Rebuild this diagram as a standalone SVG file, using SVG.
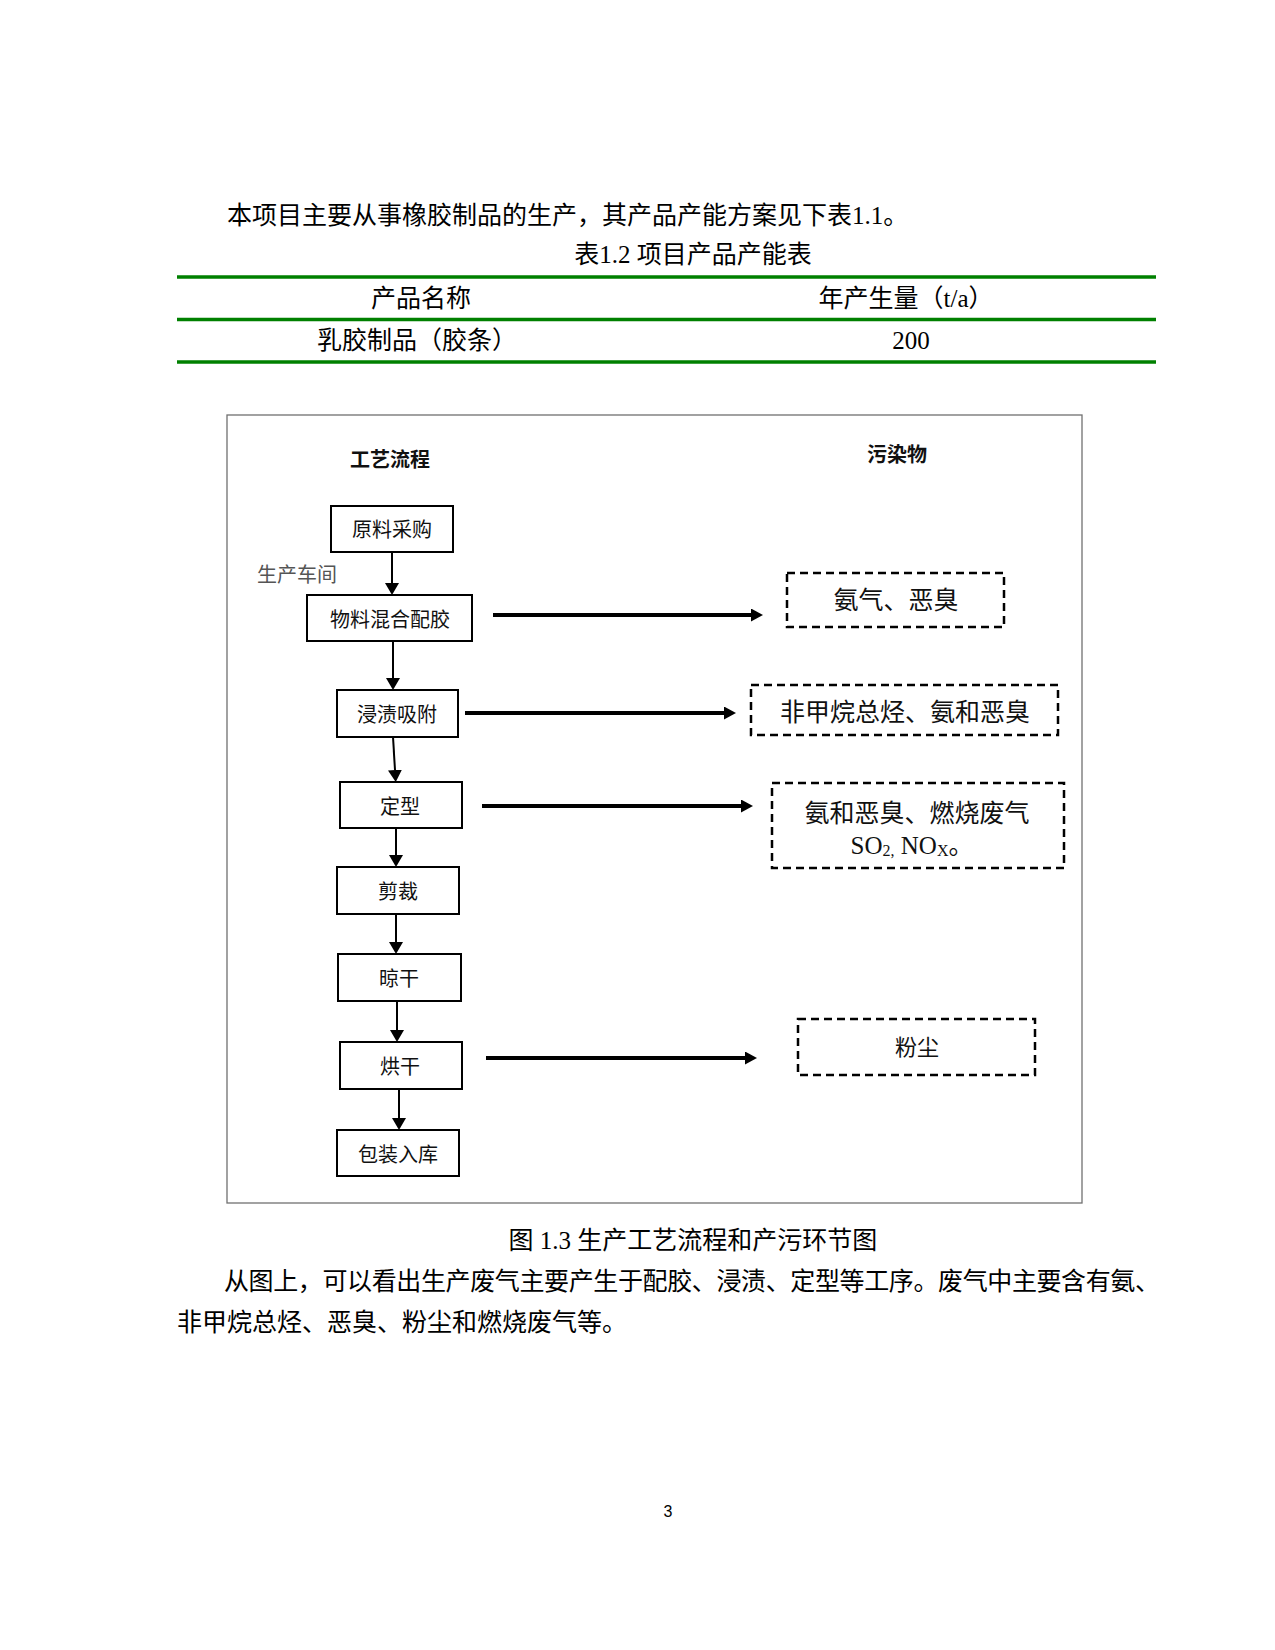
<svg xmlns="http://www.w3.org/2000/svg" width="1275" height="1650" viewBox="0 0 1275 1650">
<style>
.body{font-family:"Liberation Serif","Noto Sans CJK SC",serif;font-size:25px;fill:#000;}
.lbl{font-family:"Liberation Serif","Noto Sans CJK SC",serif;font-size:20px;fill:#111;text-anchor:middle;dominant-baseline:central;}
.hdr{font-family:"Liberation Serif","Noto Sans CJK SC",serif;font-size:20px;font-weight:bold;fill:#111;text-anchor:middle;dominant-baseline:central;}
.pol{font-family:"Liberation Serif","Noto Sans CJK SC",serif;font-size:25px;fill:#111;text-anchor:middle;dominant-baseline:central;}
.c{text-anchor:middle;dominant-baseline:central;}
.box{fill:#fff;stroke:#000;stroke-width:2;}
.dbox{fill:none;stroke:#000;stroke-width:2.5;stroke-dasharray:8 5;}
.green{stroke:#008000;stroke-width:3.5;}
.va{stroke:#000;stroke-width:2;fill:none;marker-end:url(#ahv);}
.ha{stroke:#000;stroke-width:4;fill:none;marker-end:url(#ahh);}
</style>
<defs>
<marker id="ahv" markerUnits="userSpaceOnUse" markerWidth="12" markerHeight="14" refX="0" refY="7" orient="auto">
<path d="M0,0 L12,7 L0,14 z" fill="#000"/>
</marker>
<marker id="ahh" markerUnits="userSpaceOnUse" markerWidth="12" markerHeight="13" refX="0" refY="6.5" orient="auto">
<path d="M0,0 L12,6.5 L0,13 z" fill="#000"/>
</marker>
</defs>
<rect width="1275" height="1650" fill="#fff"/>

<g id="intro">
<text class="body" x="227" y="215" dominant-baseline="central">本项目主要从事橡胶制品的生产，其产品产能方案见下表1.1。</text>
<text class="body c" x="693" y="254">表1.2 项目产品产能表</text>
</g>

<g id="table">
<line class="green" x1="177" y1="277" x2="1156" y2="277"/>
<line class="green" x1="177" y1="319.5" x2="1156" y2="319.5"/>
<line class="green" x1="177" y1="362" x2="1156" y2="362"/>
<text class="body c" x="421" y="298">产品名称</text>
<text class="body c" x="906" y="298">年产生量（t/a）</text>
<text class="body c" x="417" y="340">乳胶制品（胶条）</text>
<text class="body c" x="911" y="340">200</text>
</g>

<g id="frame">
<rect x="227" y="415" width="855" height="788" fill="none" stroke="#707070" stroke-width="1.3"/>
</g>

<g id="headers">
<text class="hdr" x="390" y="460">工艺流程</text>
<text class="hdr" x="897" y="455">污染物</text>
<text class="lbl" x="297" y="575" style="fill:#555">生产车间</text>
</g>

<g id="connectors">
<path class="va" d="M392,552 L392,583"/>
<path class="va" d="M393,641 L393,678"/>
<path class="va" d="M393,737 L395,770"/>
<path class="va" d="M396,828 L396,855"/>
<path class="va" d="M396,914 L396,942"/>
<path class="va" d="M397,1001 L397,1030"/>
<path class="va" d="M399,1089 L399,1118"/>
<path class="ha" d="M493,615 L751,615"/>
<path class="ha" d="M465,713 L724,713"/>
<path class="ha" d="M482,806 L741,806"/>
<path class="ha" d="M486,1058 L745,1058"/>
</g>

<g id="n1"><rect class="box" x="331" y="506" width="122" height="46"/><text class="lbl" x="392" y="530">原料采购</text></g>
<g id="n2"><rect class="box" x="307" y="595" width="165" height="46"/><text class="lbl" x="390" y="619.5">物料混合配胶</text></g>
<g id="n3"><rect class="box" x="337" y="690" width="121" height="47"/><text class="lbl" x="397" y="715">浸渍吸附</text></g>
<g id="n4"><rect class="box" x="340" y="782" width="122" height="46"/><text class="lbl" x="400" y="806.5">定型</text></g>
<g id="n5"><rect class="box" x="337" y="867" width="122" height="47"/><text class="lbl" x="398" y="892">剪裁</text></g>
<g id="n6"><rect class="box" x="338" y="954" width="123" height="47"/><text class="lbl" x="399" y="979">晾干</text></g>
<g id="n7"><rect class="box" x="340" y="1042" width="122" height="47"/><text class="lbl" x="400" y="1067">烘干</text></g>
<g id="n8"><rect class="box" x="337" y="1130" width="122" height="46"/><text class="lbl" x="398" y="1154.5">包装入库</text></g>

<g id="p1"><rect class="dbox" x="787" y="573" width="217" height="54"/><text class="pol" x="896" y="600">氨气、恶臭</text></g>
<g id="p2"><rect class="dbox" x="751" y="685" width="307" height="50"/><text class="pol" x="905" y="712">非甲烷总烃、氨和恶臭</text></g>
<g id="p3"><rect class="dbox" x="772" y="783" width="292" height="85"/>
<text class="pol" x="917" y="813">氨和恶臭、燃烧废气</text>
<text class="pol" x="912" y="845">SO<tspan font-size="16" dy="5">2,</tspan><tspan dy="-5"> NO</tspan><tspan font-size="16" dy="5">X</tspan><tspan dy="-5">。</tspan></text>
</g>
<g id="p4"><rect class="dbox" x="798" y="1019" width="237" height="56"/><text class="pol" x="917" y="1047" style="font-size:22px">粉尘</text></g>

<g id="caption">
<text class="body c" x="693" y="1240">图 1.3 生产工艺流程和产污环节图</text>
<text class="body" x="224" y="1281" dominant-baseline="central" textLength="936" lengthAdjust="spacing">从图上，可以看出生产废气主要产生于配胶、浸渍、定型等工序。废气中主要含有氨、</text>
<text class="body" x="177" y="1322" dominant-baseline="central">非甲烷总烃、恶臭、粉尘和燃烧废气等。</text>
<text x="668" y="1511" font-family="Liberation Sans, sans-serif" font-size="16" text-anchor="middle" dominant-baseline="central">3</text>
</g>
</svg>
